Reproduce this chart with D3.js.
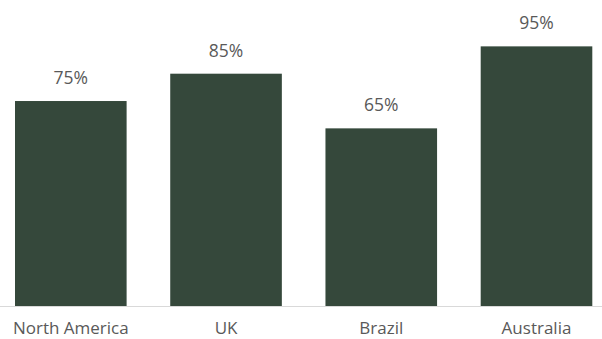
<!DOCTYPE html>
<html>
<head>
<meta charset="utf-8">
<script src="https://cdn.jsdelivr.net/npm/d3@7"></script>
<style>
  body { margin: 0; background: #fff; }
  text { font-family: "Open Sans", sans-serif; fill: #595959; }
</style>
</head>
<body>
<div id="chart"></div>
<script>
var width = 602;
var height = 339;

// data
var regions = ["North America", "UK", "Brazil", "Australia"];
var shares = [75, 85, 65, 95];

var xScale = d3.scaleBand().domain(regions).range([15, 592.3]).paddingInner(0.281).paddingOuter(0);
var yScale = d3.scaleLinear().domain([0, 100]).range([306, 32.7]);

var svg = d3.select("#chart")
  .append("svg")
  .attr("width", width)
  .attr("height", height);

// bars
svg.append("g")
  .selectAll("rect")
  .data(regions)
  .enter()
  .append("rect")
  .attr("x", function (d) { return xScale(d); })
  .attr("y", function (d, i) { return yScale(shares[i]); })
  .attr("width", xScale.bandwidth())
  .attr("height", function (d, i) { return yScale(0) - yScale(shares[i]); })
  .attr("fill", "#35483b");

// value labels
svg.append("g")
  .selectAll("text")
  .data(regions)
  .enter()
  .append("text")
  .attr("x", function (d) { return xScale(d) + xScale.bandwidth() / 2; })
  .attr("y", function (d, i) { return yScale(shares[i]) - 17; })
  .attr("text-anchor", "middle")
  .attr("font-size", "17.5px")
  .text(function (d, i) { return shares[i] + "%"; });

// x axis
var xAxis = d3.axisBottom(xScale).tickSize(0).tickPadding(16);
var gx = svg.append("g")
  .attr("transform", "translate(0," + yScale(0) + ")")
  .call(xAxis);
gx.select(".domain").remove();
gx.selectAll("text")
  .attr("font-size", "17px")
  .attr("font-family", "Open Sans, sans-serif")
  .style("fill", "#595959");

svg.append("line")
  .attr("x1", 0)
  .attr("x2", width)
  .attr("y1", yScale(0) + 0.5)
  .attr("y2", yScale(0) + 0.5)
  .attr("stroke", "#d9d9d9")
  .attr("stroke-width", 1);
</script>
</body>
</html>
